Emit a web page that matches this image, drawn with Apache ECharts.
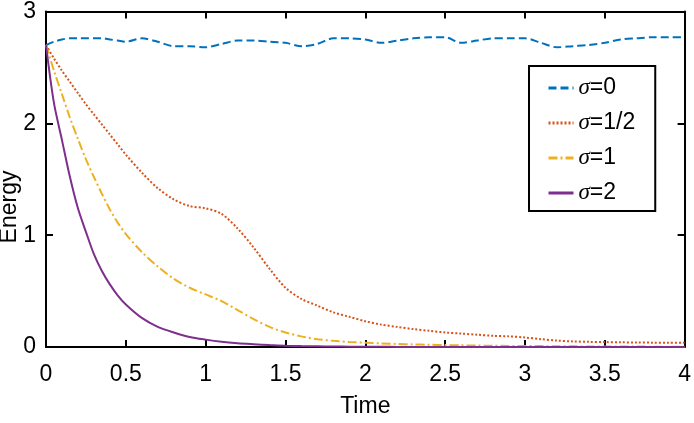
<!DOCTYPE html>
<html>
<head>
<meta charset="utf-8">
<script src="https://cdn.jsdelivr.net/npm/echarts@6/dist/echarts.min.js"></script>
<style>
html,body{margin:0;padding:0;background:#fff;}
#chart{width:694px;height:423px;}
</style>
</head>
<body>
<div id="chart"></div>
<script>
const time = [0,0.05,0.1,0.15,0.2,0.25,0.3,0.35,0.4,0.45,0.5,0.6,0.7,0.8,0.9,1.0,1.1,1.2,1.3,1.4,1.5,1.6,1.7,1.8,1.9,2.0,2.1,2.2,2.3,2.4,2.5,2.6,2.7,2.8,2.9,3.0,3.1,3.2,3.3,3.4,3.5,3.6,3.7,3.8,3.9,4.0];
const sigma0 = [2.70,2.73,2.75,2.76,2.76,2.76,2.76,2.76,2.75,2.74,2.73,2.76,2.73,2.69,2.69,2.68,2.71,2.74,2.74,2.73,2.72,2.69,2.71,2.76,2.76,2.75,2.72,2.74,2.76,2.77,2.77,2.72,2.74,2.76,2.76,2.76,2.72,2.68,2.69,2.70,2.72,2.75,2.76,2.77,2.77,2.77];
const sigmaHalf = [2.70,2.58,2.47,2.37,2.27,2.17,2.08,1.99,1.90,1.81,1.72,1.56,1.42,1.32,1.26,1.24,1.19,1.06,0.89,0.70,0.53,0.43,0.37,0.31,0.27,0.23,0.20,0.18,0.16,0.145,0.13,0.12,0.11,0.10,0.095,0.085,0.07,0.058,0.05,0.046,0.044,0.042,0.04,0.039,0.038,0.038];
const sigma1 = [2.70,2.47,2.26,2.05,1.86,1.68,1.52,1.37,1.23,1.11,1.01,0.85,0.72,0.61,0.53,0.47,0.41,0.33,0.25,0.18,0.13,0.095,0.07,0.055,0.045,0.038,0.032,0.027,0.023,0.02,0.017,0.015,0.013,0.011,0.01,0.009,0.008,0.007,0.006,0.005,0.005,0.004,0.004,0.003,0.003,0.003];
const sigma2 = [2.70,2.18,1.85,1.52,1.24,1.03,0.83,0.68,0.56,0.46,0.38,0.26,0.18,0.13,0.09,0.066,0.047,0.034,0.025,0.017,0.012,0.008,0.006,0.004,0.003,0.002,0.002,0.001,0.001,0.001,0.001,0.001,0,0,0,0,0,0,0,0,0,0,0,0,0,0];
const seriesNames = ['σ=0','σ=1/2','σ=1','σ=2'];
const xTicks = {min:0, max:4, interval:0.5};
const yTicks = {min:0, max:3, interval:1};
const xTitle = 'Time';
const yTitle = 'Energy';

const FONT = "'Liberation Sans',Arial,sans-serif";
const colors = ['#0072BD','#D95319','#EDB120','#7E2F8E'];
const styles = [
  {type:[8,4], width:2},
  {type:[2,2], width:2},
  {type:[9,3,2,3], width:2},
  {type:'solid', width:2}
];
const allData = [sigma0, sigmaHalf, sigma1, sigma2];
const pair = arr => time.map((t,i)=>[t, arr[i]]);

const axisLineStyle = {color:'#000', width:2};
const tickStyle = {inside:true, length:7, lineStyle:{color:'#000', width:2}};

const chart = echarts.init(document.getElementById('chart'), null, {renderer:'canvas'});
chart.setOption({
  animation:false,
  backgroundColor:'#fff',
  grid:{left:46, right:7, top:9, bottom:72, containLabel:false},
  xAxis:[
    {type:'value', position:'bottom', min:xTicks.min, max:xTicks.max, interval:xTicks.interval,
     axisLine:{show:true, onZero:false, lineStyle:axisLineStyle}, axisTick:tickStyle,
     axisLabel:{color:'#000', fontSize:23, fontFamily:FONT, margin:16},
     splitLine:{show:false},
     name:xTitle, nameLocation:'middle', nameGap:48,
     nameTextStyle:{color:'#000', fontSize:23, fontFamily:FONT}},
    {type:'value', position:'top', min:xTicks.min, max:xTicks.max, interval:xTicks.interval,
     axisLine:{show:true, onZero:false, lineStyle:axisLineStyle}, axisTick:tickStyle,
     axisLabel:{show:false}, splitLine:{show:false}}
  ],
  yAxis:[
    {type:'value', position:'left', min:yTicks.min, max:yTicks.max, interval:yTicks.interval,
     axisLine:{show:true, onZero:false, lineStyle:axisLineStyle}, axisTick:tickStyle,
     axisLabel:{color:'#000', fontSize:23, fontFamily:FONT, margin:10},
     splitLine:{show:false}},
    {type:'value', position:'right', min:yTicks.min, max:yTicks.max, interval:yTicks.interval,
     axisLine:{show:true, onZero:false, lineStyle:axisLineStyle}, axisTick:tickStyle,
     axisLabel:{show:false}, splitLine:{show:false}}
  ],
  graphic:[{
    type:'text', x:10, y:207, rotation:Math.PI/2,
    style:{text:yTitle, fontSize:23, fontFamily:FONT, fill:'#000', textAlign:'center', textVerticalAlign:'middle'}
  }],
  legend:{
    orient:'vertical', left:529, top:66,
    backgroundColor:'#fff', borderColor:'#000', borderWidth:2,
    padding:[10,20,6,18], itemGap:11, itemWidth:25, itemHeight:14,
    itemStyle:{opacity:0},
    lineStyle:{width:3},
    data:seriesNames,
    formatter: n => '{it|σ}' + n.slice(1),
    textStyle:{color:'#000', fontSize:23, fontFamily:FONT, lineHeight:24,
      rich:{it:{fontStyle:'italic', fontSize:23, fontFamily:"'Liberation Serif','Times New Roman',serif", color:'#000'}}}
  },
  series: seriesNames.map((n,i)=>({
    name:n, type:'line', data:pair(allData[i]), xAxisIndex:0, yAxisIndex:0,
    showSymbol:false, symbol:'none', smooth:0.3,
    lineStyle:{color:colors[i], width:styles[i].width, type:styles[i].type},
    itemStyle:{color:colors[i]}
  }))
});
</script>
</body>
</html>
